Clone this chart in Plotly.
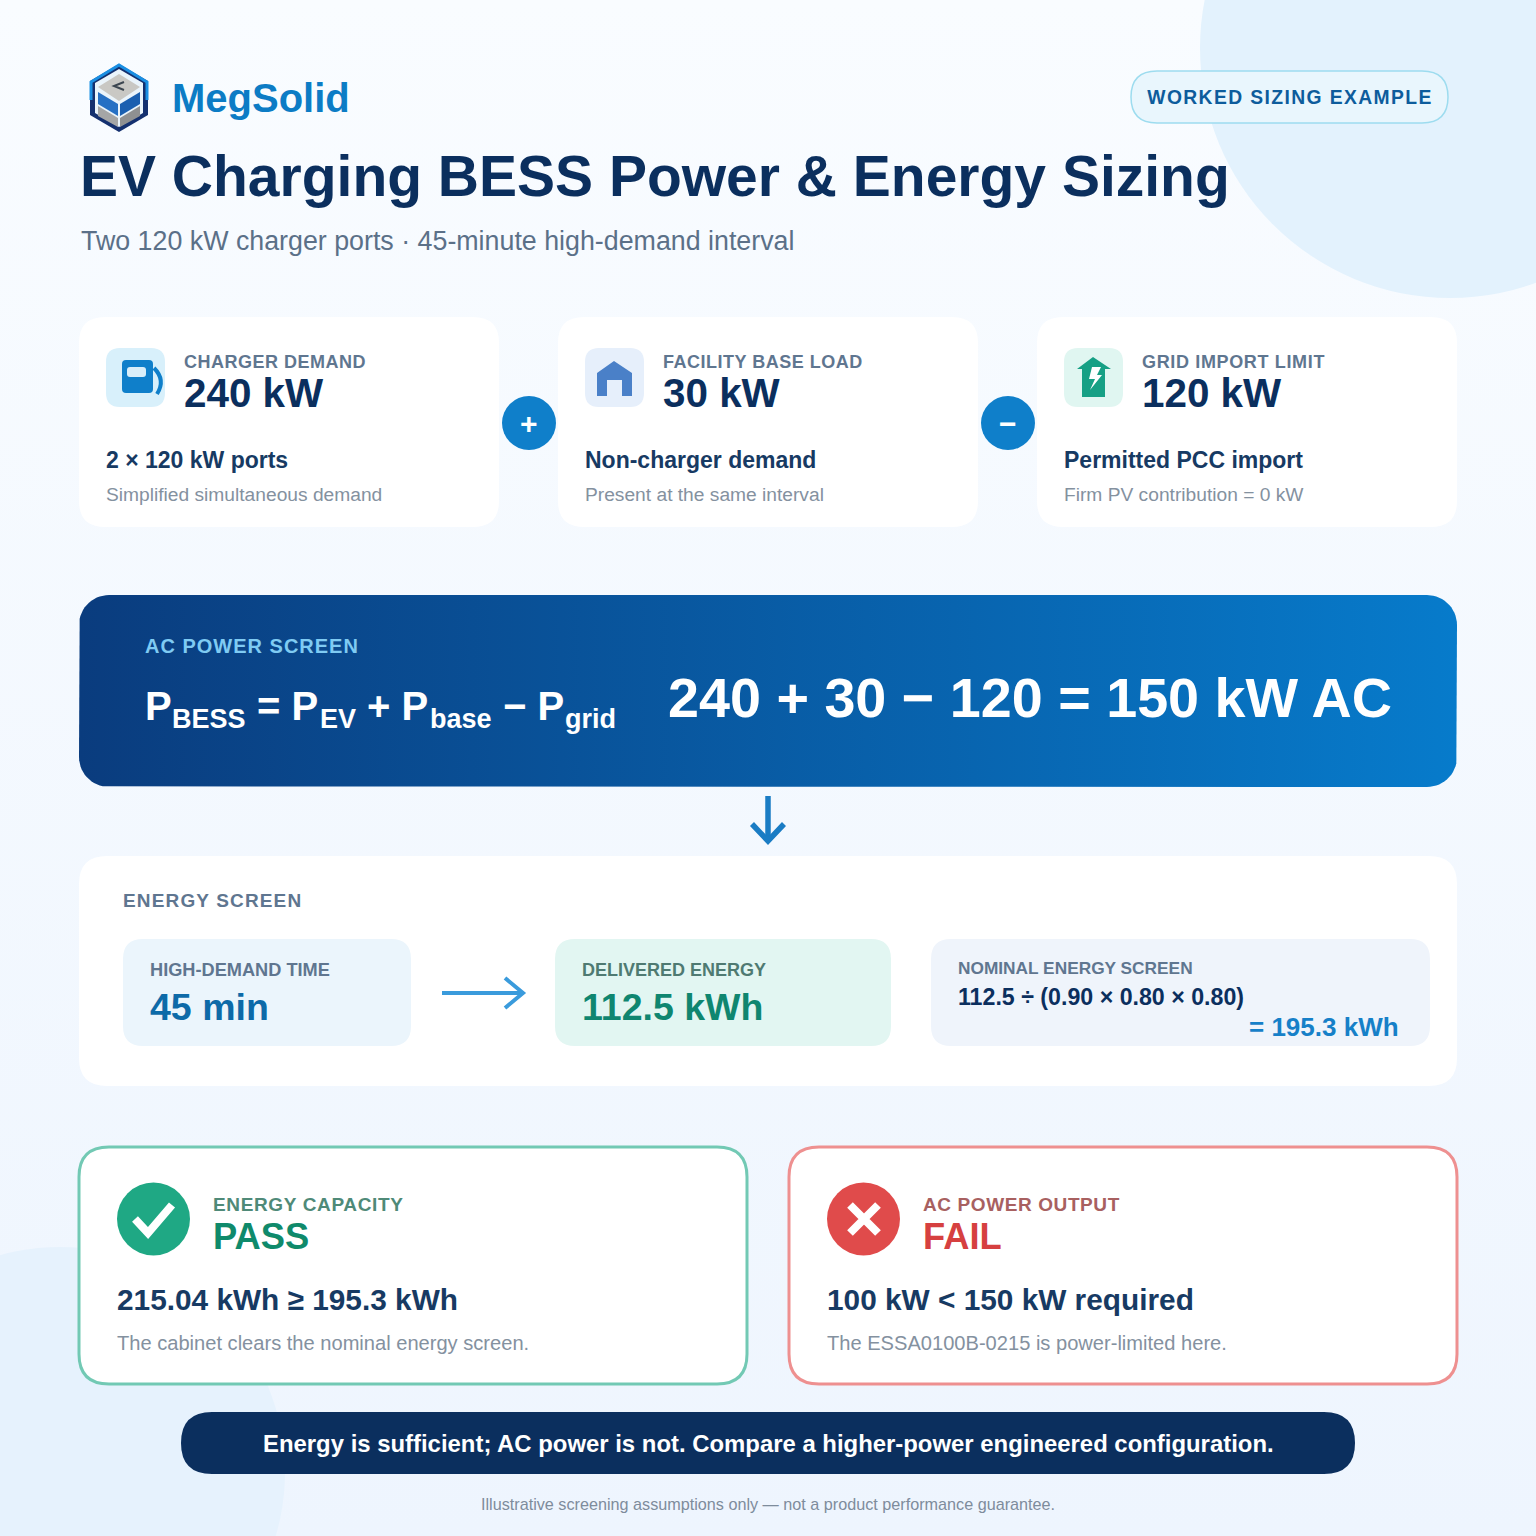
import json
import numpy as np
import plotly.graph_objects as go

FONT = "Liberation Sans"
NAVY = "#0b2f5e"
LABEL_GREY = "#5f7690"
NOTE_GREY = "#84919f"

brand = "MegSolid"
badge = "WORKED SIZING EXAMPLE"
title = "EV Charging BESS Power & Energy Sizing"
subtitle = "Two 120 kW charger ports · 45-minute high-demand interval"

card_labels = ["CHARGER DEMAND", "FACILITY BASE LOAD", "GRID IMPORT LIMIT"]
card_values = ["240 kW", "30 kW", "120 kW"]
card_notes = ["2 × 120 kW ports", "Non-charger demand", "Permitted PCC import"]
card_subs = ["Simplified simultaneous demand", "Present at the same interval", "Firm PV contribution = 0 kW"]
card_ops = ["+", "−"]

power_label = "AC POWER SCREEN"
formula_main = ["P", "= P", "+ P", "− P"]
formula_subs = ["BESS", "EV", "base", "grid"]
power_result = "240 + 30 − 120 = 150 kW AC"

energy_label = "ENERGY SCREEN"
time_label, time_value = "HIGH-DEMAND TIME", "45 min"
delivered_label, delivered_value = "DELIVERED ENERGY", "112.5 kWh"
nominal_label = "NOMINAL ENERGY SCREEN"
nominal_formula = "112.5 ÷ (0.90 × 0.80 × 0.80)"
nominal_value = "= 195.3 kWh"

check_labels = ["ENERGY CAPACITY", "AC POWER OUTPUT"]
check_results = ["PASS", "FAIL"]
check_lines = ["215.04 kWh ≥ 195.3 kWh", "100 kW < 150 kW required"]
check_subs = ["The cabinet clears the nominal energy screen.", "The ESSA0100B-0215 is power-limited here."]

verdict = "Energy is sufficient; AC power is not. Compare a higher-power engineered configuration."
footnote = "Illustrative screening assumptions only — not a product performance guarantee."

# letter spacing (px) for the tracked caps labels, applied after plotly has drawn
tracking = {badge: 1.4, power_label: 1.0, energy_label: 1.15,
            card_labels[0]: 0.5, card_labels[1]: 0.5, card_labels[2]: 0.65,
            check_labels[0]: 0.64, check_labels[1]: 0.6}


def rrect(x0, y0, x1, y1, r):
    return (f"M {x0+r} {y0} L {x1-r} {y0} Q {x1} {y0} {x1} {y0+r} L {x1} {y1-r} Q {x1} {y1} {x1-r} {y1} "
            f"L {x0+r} {y1} Q {x0} {y1} {x0} {y1-r} L {x0} {y0+r} Q {x0} {y0} {x0+r} {y0} Z")


def rrect_points(x0, y0, x1, y1, r):
    xs, ys = [], []
    corners = [(x1 - r, y0 + r, -90), (x1 - r, y1 - r, 0), (x0 + r, y1 - r, 90), (x0 + r, y0 + r, 180)]
    for cx, cy, start in corners:
        a = np.radians(np.linspace(start, start + 90, 16))
        xs.extend(cx + r * np.cos(a))
        ys.extend(cy + r * np.sin(a))
    return xs + xs[:1], ys + ys[:1]


shapes = []


def box(x0, y0, x1, y1, r, fill, line=None, width=0):
    shapes.append(dict(type="path", path=rrect(x0, y0, x1, y1, r), fillcolor=fill,
                       line=dict(color=line or fill, width=width), layer="above"))


def poly(points, fill):
    path = "M " + " L ".join(f"{x} {y}" for x, y in points) + " Z"
    shapes.append(dict(type="path", path=path, fillcolor=fill, line=dict(width=0), layer="above"))


def stroke(path, color, width):
    shapes.append(dict(type="path", path=path, line=dict(color=color, width=width), layer="above"))


def circle(cx, cy, r, fill):
    shapes.append(dict(type="circle", x0=cx - r, x1=cx + r, y0=cy - r, y1=cy + r, fillcolor=fill,
                       line=dict(width=0), layer="above"))


annotations = []


def text(x, y, s, size, color, bold=False, anchor="left"):
    annotations.append(dict(x=x, y=y, text=s, showarrow=False, xanchor=anchor, yanchor="middle",
                            borderpad=0, borderwidth=0, align=anchor,
                            font=dict(family=FONT, size=size, color=color, weight=700 if bold else 400)))


fig = go.Figure()

# page background and the power band use real gradients, everything else sits on top
bgx, bgy = rrect_points(0, 0, 1536, 1536, 0.01)
fig.add_trace(go.Scatter(x=bgx, y=bgy, mode="lines", line=dict(width=0), fill="toself", hoverinfo="skip",
                         fillgradient=dict(type="vertical", colorscale=[[0, "#eef5fe"], [1, "#f9fcff"]])))
bx, by = rrect_points(79, 595, 1457, 787, 30)
fig.add_trace(go.Scatter(x=bx, y=by, mode="lines", line=dict(width=0), fill="toself", hoverinfo="skip",
                         fillgradient=dict(type="horizontal", colorscale=[[0, "#0a3c7e"], [1, "#077bcb"]])))

# faint page circles
circle(1450, 48, 250, "#e3f2fd")
circle(60, 1472, 225, "#e6f2fd")

# logo
poly([(119, 64), (148, 81), (148, 115), (119, 132), (90, 115), (90, 81)], "#14306f")
stroke("M 91 100 L 91 82 L 119 65 L 147 82 L 147 100", "#1a8fe3", 3)
poly([(119, 69), (143, 83), (143, 113), (119, 127), (95, 113), (95, 83)], "#eaf4fb")
poly([(119, 74), (140, 87), (119, 101), (98, 87)], "#c9c8c4")
stroke("M 124 82 L 114 86 L 124 90", "#3c4650", 2)
poly([(98, 92), (118, 104), (118, 116), (98, 104)], "#2570c4")
poly([(140, 92), (120, 104), (120, 116), (140, 104)], "#1a5fb0")
poly([(98, 106), (118, 118), (118, 127), (98, 116)], "#a5a6a6")
poly([(140, 106), (120, 118), (120, 127), (140, 116)], "#8f9091")
text(172, 98, brand, 40, "#0c7cc5", True)

# badge
box(1131, 71, 1448, 123, 26, "#e9f6fd", "#9ddcef", 1.5)
text(1289.5, 97, badge, 19.3, "#0d5c9c", True, "center")

text(80, 176, title, 57, NAVY, True)
text(81, 241, subtitle, 26.8, "#5b7088")

# input cards
card_x = [79, 558, 1037]
icon_fill = ["#d8f0fb", "#e6effb", "#e0f6f1"]
for i, x in enumerate(card_x):
    box(x, 317, x + 420, 527, 26, "#ffffff")
    box(x + 27, 348, x + 86, 407, 14, icon_fill[i])
    text(x + 105, 362, card_labels[i], 18, LABEL_GREY, True)
    text(x + 105, 393, card_values[i], 40.4, NAVY, True)
    text(x + 27, 460, card_notes[i], 23, "#173a63", True)
    text(x + 27, 494, card_subs[i], 19.2, NOTE_GREY)

# pump icon
box(122, 360, 153, 393, 4, "#0f7fca")
box(127, 367, 146, 377, 3, "#d9eef9")
stroke("M 154 368 Q 166 380 157 394", "#0f7fca", 4)
# house icon
poly([(614, 361), (632, 373), (632, 396), (622, 396), (622, 380), (607, 380), (607, 396), (597, 396), (597, 373)], "#4a80c8")
# grid icon
poly([(1093, 357), (1111, 369), (1105, 369), (1105, 397), (1082, 397), (1082, 369), (1077, 369)], "#16a085")
poly([(1092, 367), (1101, 367), (1097, 375), (1102, 375), (1090, 390), (1095, 379), (1089, 379)], "#ffffff")

for cx, op in zip([529, 1008], card_ops):
    circle(cx, 423, 27, "#0f7fca")
    text(cx, 423, op, 30, "#ffffff", True, "center")

# power band
text(145, 646, power_label, 20, "#7fcbf3", True)
for s, x in zip(formula_main, [145, 257, 367, 503]):
    text(x, 706, s, 40, "#ffffff", True)
for s, x in zip(formula_subs, [172, 320, 430, 565]):
    text(x, 719, s, 27, "#ffffff", True)
text(668, 698, power_result, 55.7, "#ffffff", True)

# connector arrow
stroke("M 768 796 L 768 840", "#1a7cc4", 5.5)
stroke("M 752 824 L 768 841 L 784 824", "#1a7cc4", 5.5)

# energy panel
box(79, 856, 1457, 1086, 28, "#ffffff")
text(123, 900, energy_label, 19, LABEL_GREY, True)
box(123, 939, 411, 1046, 20, "#ebf5fc")
text(150, 970, time_label, 18.2, LABEL_GREY, True)
text(150, 1007, time_value, 37.5, "#0d6aa8", True)
stroke("M 442 993 L 522 993", "#3a9bdc", 4)
stroke("M 505 978 L 523 993 L 505 1008", "#3a9bdc", 4)
box(555, 939, 891, 1046, 20, "#e2f6f2")
text(582, 970, delivered_label, 18, "#4f7a72", True)
text(582, 1007, delivered_value, 37.5, "#0f8670", True)
box(931, 939, 1430, 1046, 20, "#eff4fb")
text(958, 968, nominal_label, 17.3, LABEL_GREY, True)
text(958, 997, nominal_formula, 23.2, NAVY, True)
text(1399, 1027, nominal_value, 26, "#1680c8", True, "right")

# result cards
check_x = [79, 789]
check_line = ["#72c9b4", "#ee9090"]
check_fill = ["#1fa884", "#e04b4b"]
check_label_color = ["#4f8a78", "#a86060"]
check_result_color = ["#0f8a6b", "#d64040"]
for i, x in enumerate(check_x):
    box(x, 1147, x + 668, 1384, 30, "#ffffff", check_line[i], 3)
    circle(x + 74.5, 1219, 36.5, check_fill[i])
    text(x + 134, 1204, check_labels[i], 19, check_label_color[i], True)
    text(x + 134, 1236, check_results[i], 36.3, check_result_color[i], True)
    text(x + 38, 1299, check_lines[i], 29.8, "#173a63", True)
    text(x + 38, 1343, check_subs[i], 20.1, NOTE_GREY)
stroke("M 135 1219 L 148 1233 L 172 1205", "#ffffff", 8)
stroke("M 850 1205 L 878 1233 M 878 1205 L 850 1233", "#ffffff", 8)

# verdict
box(181, 1412, 1355, 1474, 31, NAVY)
text(768, 1443, verdict, 23.9, "#ffffff", True, "center")
text(768, 1504, footnote, 16.2, "#7e8c9c", False, "center")

fig.update_layout(
    width=1536, height=1536, margin=dict(l=0, r=0, t=0, b=0),
    paper_bgcolor="#f4f9fe", plot_bgcolor="#f4f9fe", showlegend=False,
    xaxis=dict(range=[0, 1536], visible=False, fixedrange=True),
    yaxis=dict(range=[1536, 0], visible=False, fixedrange=True),
    shapes=shapes, annotations=annotations,
)
# browser's default body margin would push the page 8px off
post = ("document.body.style.margin='0';document.body.style.overflow='hidden';"
        "var tracked=" + json.dumps(tracking) + ";"
        "document.querySelectorAll('.annotation-text').forEach(function(t){"
        "var s=tracked[t.textContent];if(s){t.style.letterSpacing=s+'px';}});")
fig.write_html("out.html", config={"displayModeBar": False}, post_script=post)
